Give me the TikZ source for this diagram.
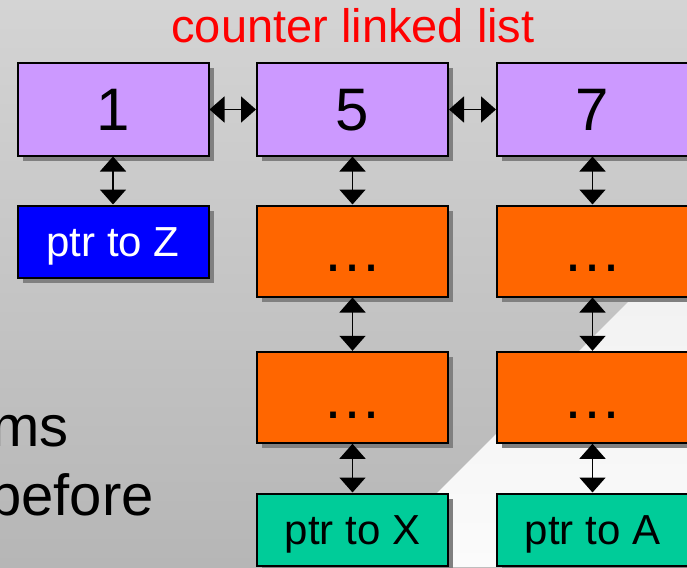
\documentclass[tikz,border=0pt]{standalone}
\usepackage{fontspec}
\setmainfont{Liberation Sans}
\usetikzlibrary{arrows.meta,shadows}
\definecolor{purp}{HTML}{CC99FF}
\definecolor{orng}{HTML}{FF6600}
\definecolor{grn}{HTML}{00CC99}
\definecolor{blu}{HTML}{0000FF}
\definecolor{shd}{HTML}{808080}
\definecolor{bgtop}{HTML}{D4D4D4}
\definecolor{bgbot}{HTML}{B6B6B6}
\definecolor{lttop}{HTML}{F0F0F0}
\definecolor{ltbot}{HTML}{FBFBFB}
\begin{document}
\begin{tikzpicture}[x=1pt,y=-1pt,
  box/.style={draw=black, line width=2pt, minimum width=191pt, inner sep=0pt,
    drop shadow={shadow xshift=5pt, shadow yshift=-5pt, fill=shd, opacity=1}},
  bigtxt/.style={font=\fontsize{60}{72}\selectfont, text height=54.3pt, text depth=12.7pt},
  smalltxt/.style={font=\fontsize{42}{50}\selectfont, text height=38pt, text depth=8.9pt},
  pbox/.style={box, bigtxt, fill=purp, minimum height=92pt},
  obox/.style={box, bigtxt, fill=orng, minimum height=91pt},
  gbox/.style={box, smalltxt, fill=grn, minimum height=72pt},
  zbox/.style={box, smalltxt, fill=blu, text=white, minimum height=72pt},
  dbl/.style={{Triangle[length=15pt,width=26pt]}-{Triangle[length=15pt,width=26pt]}, line width=1.75pt},
  sidetxt/.style={anchor=base east, font=\fontsize{58}{70}\selectfont, inner sep=0pt}
]
\useasboundingbox (0,0) rectangle (687,567);
\shade[top color=bgtop, bottom color=bgbot] (0,0) rectangle (687,567);
\shade[top color=lttop, bottom color=ltbot] (688,242) -- (363,567) -- (688,567) -- cycle;

\node[anchor=base, text=red, font=\fontsize{47}{56}\selectfont, inner sep=0pt] (title) at (353,43) {counter linked list};

\node[sidetxt] (s1) at (69,446) {ms};
\node[sidetxt] (s2) at (154,515) {before};

\node[pbox] (b1) at (113,109.5) {1};
\node[pbox] (b5) at (352.5,109.5) {5};
\node[pbox] (b7) at (592.5,109.5) {7};

\node[zbox, minimum height=72.5pt] (pz) at (113,241.75) {ptr to Z};

\node[obox] (o51) at (352.5,251) {…};
\node[obox] (o71) at (592.5,251) {…};
\node[obox] (o52) at (352.5,397.3) {…};
\node[obox] (o72) at (592.5,397.3) {…};

\node[gbox] (g5) at (352.5,529.5) {ptr to X};
\node[gbox] (g7) at (592.5,529.5) {ptr to A};

\draw[dbl] (b1) -- (b5);
\draw[dbl] (b5) -- (b7);
\draw[dbl] (b1) -- (pz);
\draw[dbl] (b5) -- (o51);
\draw[dbl] (o51) -- (o52);
\draw[dbl] (o52) -- (g5);
\draw[dbl] (b7) -- (o71);
\draw[dbl] (o71) -- (o72);
\draw[dbl] (o72) -- (g7);
\end{tikzpicture}
\end{document}
